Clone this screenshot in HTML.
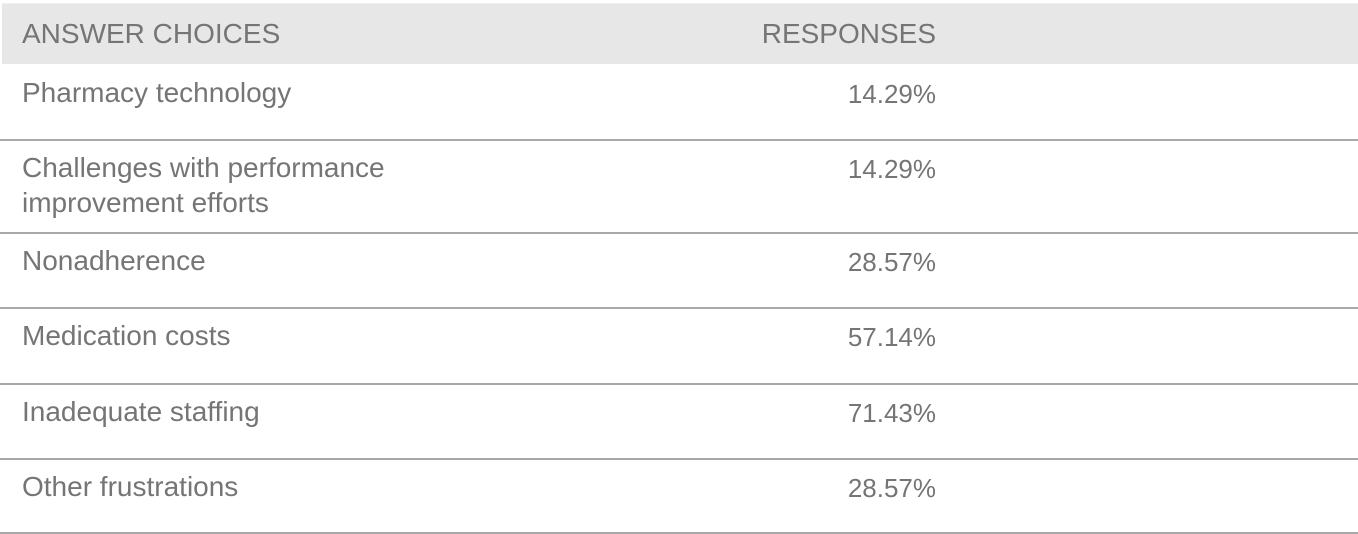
<!DOCTYPE html>
<html><head><style>
body{margin:0;width:1358px;height:534px;background:#fff;position:relative;overflow:hidden;font-family:"Liberation Sans",sans-serif;color:#757575;font-size:28px}
.hdr{position:absolute;left:2px;top:3px;width:1356px;height:60px;background:#e7e7e7;border-top:1px solid #f0f0f0}
.t{position:absolute;white-space:nowrap;line-height:30px}
.r{position:absolute;right:422px;white-space:nowrap;line-height:30px}
.p{font-size:26px;margin-top:1px}
.ln{position:absolute;left:0;width:1358px;height:2px;background:#a8a8a8}
</style></head><body>
<div class="hdr"></div>
<div class="t" style="left:22px;top:19px">ANSWER CHOICES</div>
<div class="r" style="top:19px">RESPONSES</div>

<div class="t" style="left:22px;top:78px">Pharmacy technology</div>
<div class="r p" style="top:78px">14.29%</div>
<div class="ln" style="top:139px"></div>

<div class="t" style="left:22px;top:153px">Challenges with performance</div>
<div class="t" style="left:22px;top:188px">improvement efforts</div>
<div class="r p" style="top:153px">14.29%</div>
<div class="ln" style="top:232px"></div>

<div class="t" style="left:22px;top:246px">Nonadherence</div>
<div class="r p" style="top:246px">28.57%</div>
<div class="ln" style="top:307px"></div>

<div class="t" style="left:22px;top:321px">Medication costs</div>
<div class="r p" style="top:321px">57.14%</div>
<div class="ln" style="top:383px"></div>

<div class="t" style="left:22px;top:397px">Inadequate staffing</div>
<div class="r p" style="top:397px">71.43%</div>
<div class="ln" style="top:458px"></div>

<div class="t" style="left:22px;top:472px">Other frustrations</div>
<div class="r p" style="top:472px">28.57%</div>
<div class="ln" style="top:532px"></div>
</body></html>
